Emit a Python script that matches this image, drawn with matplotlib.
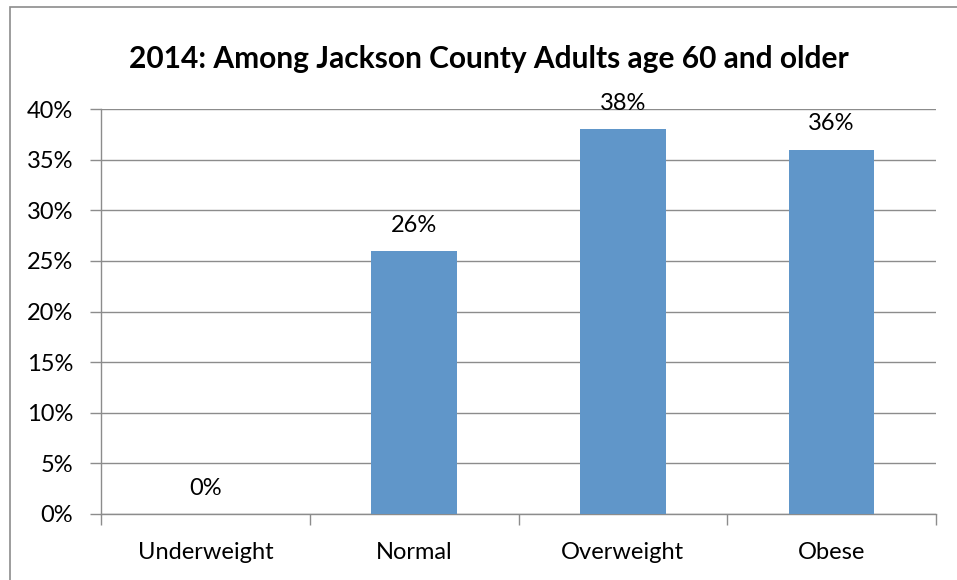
import matplotlib
matplotlib.use("Agg")
import matplotlib.pyplot as plt
from matplotlib.patches import Rectangle
from matplotlib.ticker import FuncFormatter, MultipleLocator

categories = ["Underweight", "Normal", "Overweight", "Obese"]
values = [0, 26, 38, 36]
title = "2014: Among Jackson County Adults age 60 and older"

W, H = 957, 580
fig = plt.figure(figsize=(W / 100, H / 100), dpi=100)
plt.rcParams['font.family'] = ['Lato', 'DejaVu Sans']

# outer border (right and bottom edges fall outside the canvas)
fig.patches.append(Rectangle((10 / W, -0.05), 1.0, (H - 7) / H + 0.05,
                             transform=fig.transFigure, fill=False,
                             edgecolor='#8c8c8c', linewidth=1.2))

left, right, top, bottom = 101, 936, 109, 514
ax = fig.add_axes([left / W, 1 - bottom / H, (right - left) / W, (bottom - top) / H])

x = list(range(len(categories)))
bar_color = '#6096C9'
ax.bar(x, values, width=0.41, color=bar_color, zorder=3)
for xi, v in zip(x, values):
    ax.text(xi, v + 1.9, f"{v}%", ha='center', va='baseline', fontsize=17, color='#000000', zorder=4)

ax.set_xlim(-0.5, len(categories) - 0.5)
ax.set_ylim(0, 40)
ax.yaxis.set_major_locator(MultipleLocator(5))
ax.yaxis.set_major_formatter(FuncFormatter(lambda v, p: f"{int(v)}%"))
ax.grid(axis='y', color='#8c8c8c', linewidth=1.0, zorder=0)
ax.set_axisbelow(True)

ax.set_xticks(x)
ax.set_xticklabels(categories, fontsize=17)
ax.set_xticks([i - 0.5 for i in range(len(categories) + 1)], minor=True)
ax.tick_params(axis='x', which='major', length=0, pad=20)
ax.tick_params(axis='x', which='minor', length=8, color='#8c8c8c', width=1.0)
ax.tick_params(axis='y', length=8, color='#8c8c8c', width=1.0, labelsize=17, pad=12)

for s in ['top', 'right']:
    ax.spines[s].set_visible(False)
for s in ['left', 'bottom']:
    ax.spines[s].set_color('#8c8c8c')
    ax.spines[s].set_linewidth(1.0)

fig.text(489 / W, 1 - 59 / H, title, ha='center', va='center',
         fontsize=21.5, fontweight='bold')

fig.savefig("out.png", dpi=100, facecolor='white')
